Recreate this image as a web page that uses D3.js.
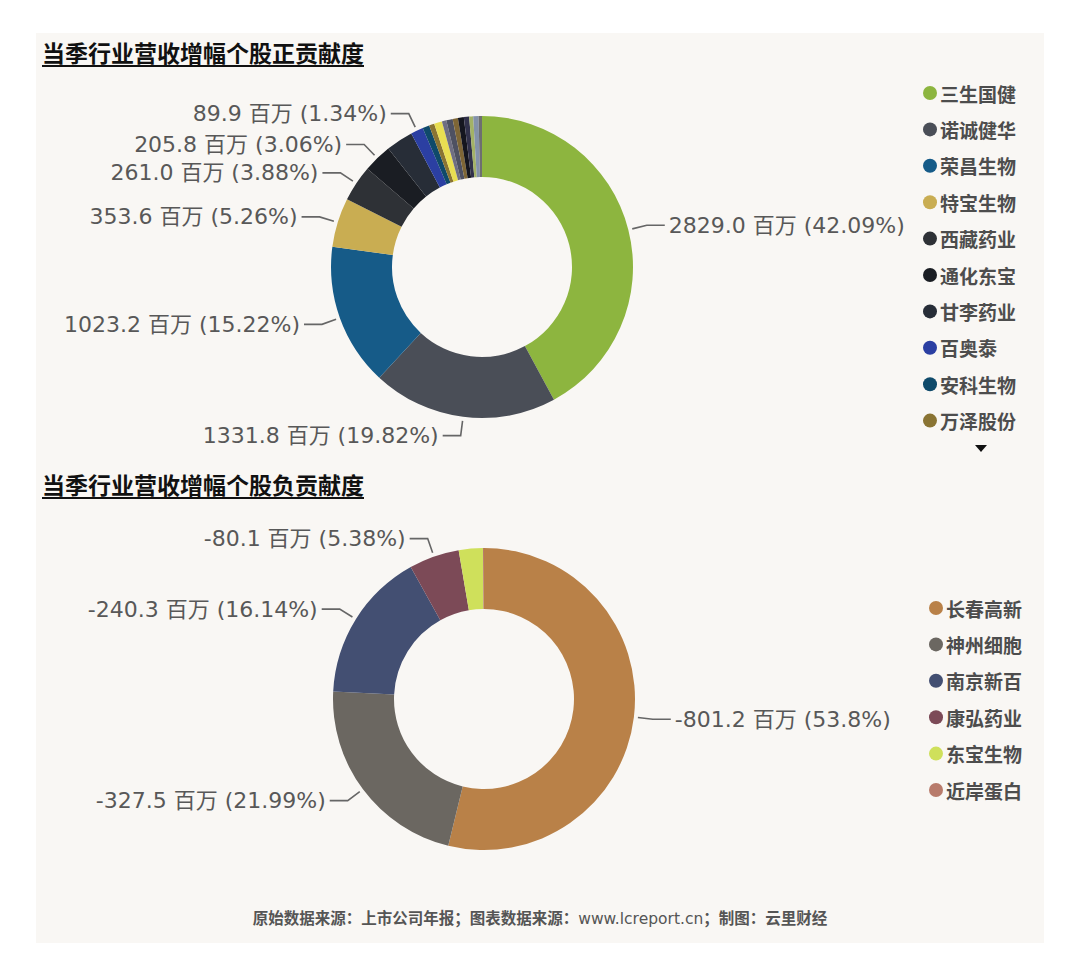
<!DOCTYPE html>
<html>
<head>
<meta charset="utf-8">
<script src="https://cdn.jsdelivr.net/npm/d3@7"></script>
<style>
  body { margin: 0; background: #fff; }
  svg { display: block; }
</style>
</head>
<body>
<svg id="chart" width="1080" height="978"></svg>
<script>
// positive contributors (only first ten show in the legend)
var posNames = ["三生国健", "诺诚健华", "荣昌生物", "特宝生物", "西藏药业", "通化东宝", "甘李药业", "百奥泰", "安科生物", "万泽股份",
                "其他1", "其他2", "其他3", "其他4", "其他5", "其他6", "其他7", "其他8", "其他9"];
var posValues = [2829.0, 1331.8, 1023.2, 353.6, 261.0, 205.8, 195.0, 89.9, 49.0, 38.0,
                 57.0, 32.0, 46.0, 38.0, 42.0, 38.0, 29.0, 38.0, 24.5];
var posColors = ["#8db53f", "#4a4e57", "#165b88", "#c9ad52", "#2e3136", "#1a1d23", "#272d37", "#2b3fa2", "#0f4a6a", "#8a7433",
                 "#e9de52", "#6f6e82", "#4e5162", "#7e6636", "#15161f", "#31314a", "#a3b266", "#8492aa", "#6e6f70"];
var posLabeled = ["三生国健", "诺诚健华", "荣昌生物", "特宝生物", "西藏药业", "通化东宝", "百奥泰"];

// negative contributors
var negNames = ["长春高新", "神州细胞", "南京新百", "康弘药业", "东宝生物", "近岸蛋白"];
var negValues = [-801.2, -327.5, -240.3, -80.1, -38.4, -1.6];
var negColors = ["#b98148", "#6b6761", "#434f72", "#7c4a57", "#cfe05b", "#b87b6b"];
var negLabeled = ["长春高新", "神州细胞", "南京新百", "康弘药业"];

var titles = ["当季行业营收增幅个股正贡献度", "当季行业营收增幅个股负贡献度"];
var footer = ["原始数据来源：上市公司年报；图表数据来源：", "www.lcreport.cn", "；制图：云里财经"];

var svg = d3.select("#chart"),
    outerR = 151,
    innerR = 90,
    labelFont = "'DejaVu Sans', 'Noto Sans CJK SC', sans-serif",
    cjkFont = "'Noto Sans CJK SC', sans-serif";

svg.append("rect")
    .attr("x", 36).attr("y", 33)
    .attr("width", 1008).attr("height", 910)
    .attr("fill", "#f9f7f4");

function drawTitle(text, y) {
  var t = svg.append("text")
      .attr("x", 42).attr("y", y)
      .attr("font-family", cjkFont)
      .attr("font-size", 23)
      .attr("font-weight", "bold")
      .attr("fill", "#111")
      .text(text);
  var w = t.node().getComputedTextLength();
  svg.append("line")
      .attr("x1", 42).attr("x2", 42 + w)
      .attr("y1", y + 4).attr("y2", y + 4)
      .attr("stroke", "#111").attr("stroke-width", 2);
}

function drawDonut(names, values, colors, labeled, cx, cy) {
  var total = d3.sum(values, v => Math.abs(v));
  var color = d3.scaleOrdinal().domain(names).range(colors);
  var data = names.map((n, i) => ({name: n, value: values[i]}));

  var pie = d3.pie().sort(null).value(d => Math.abs(d.value));
  var arc = d3.arc().innerRadius(innerR).outerRadius(outerR);
  var arcs = pie(data);

  var g = svg.append("g").attr("transform", "translate(" + cx + "," + cy + ")");

  g.selectAll("path")
      .data(arcs)
      .enter()
      .append("path")
      .attr("d", arc)
      .attr("fill", d => color(d.data.name));

  var lab = arcs.filter(d => labeled.indexOf(d.data.name) >= 0);

  var pt = (a, r) => [Math.sin(a) * r, -Math.cos(a) * r];

  lab.forEach(function(d) {
    var a = (d.startAngle + d.endAngle) / 2,
        right = Math.sin(a) > 0,
        p0 = pt(a, outerR + 4),
        p1 = pt(a, outerR + 19),
        p2 = [p1[0] + (right ? 18 : -18), p1[1]];

    g.append("polyline")
        .attr("points", [p0, p1, p2].map(p => p.join(",")).join(" "))
        .attr("fill", "none")
        .attr("stroke", "#666")
        .attr("stroke-width", 1.6);

    var pct = +(Math.abs(d.data.value) / total * 100).toFixed(2);
    g.append("text")
        .attr("x", p2[0] + (right ? 4 : -4))
        .attr("y", p2[1])
        .attr("text-anchor", right ? "start" : "end")
        .attr("dominant-baseline", "central")
        .attr("font-family", labelFont)
        .attr("font-size", 22)
        .attr("fill", "#585858")
        .text(d.data.value.toFixed(1) + " 百万 (" + pct + "%)");
  });
}

function drawLegend(names, colors, x, y0, count) {
  var color = d3.scaleOrdinal().domain(names).range(colors);
  var step = 36.4;
  var items = names.slice(0, count);
  var lg = svg.append("g").attr("transform", "translate(" + x + "," + y0 + ")");
  items.forEach(function(n, i) {
    lg.append("circle")
        .attr("cx", 0).attr("cy", i * step)
        .attr("r", 7)
        .attr("fill", color(n));
    lg.append("text")
        .attr("x", 10).attr("y", i * step)
        .attr("dominant-baseline", "central")
        .attr("font-family", cjkFont)
        .attr("font-size", 19)
        .attr("font-weight", "bold")
        .attr("fill", "#4d4d4d")
        .text(n);
  });
}

drawTitle(titles[0], 62);
drawTitle(titles[1], 494);

drawDonut(posNames, posValues, posColors, posLabeled, 482, 267);
drawDonut(negNames, negValues, negColors, negLabeled, 484, 699);

drawLegend(posNames, posColors, 930, 93, 10);
drawLegend(negNames, negColors, 936, 608, negNames.length);

// legend page arrow
svg.append("path")
    .attr("d", "M975,445 L987,445 L981,452 Z")
    .attr("fill", "#111");

var ft = svg.append("text")
    .attr("x", 540).attr("y", 924)
    .attr("text-anchor", "middle")
    .attr("font-family", cjkFont)
    .attr("font-size", 15.5)
    .attr("fill", "#555");
ft.append("tspan").attr("font-weight", "bold").text(footer[0]);
ft.append("tspan").attr("font-family", labelFont).text(footer[1]);
ft.append("tspan").attr("font-weight", "bold").text(footer[2]);
</script>
</body>
</html>
